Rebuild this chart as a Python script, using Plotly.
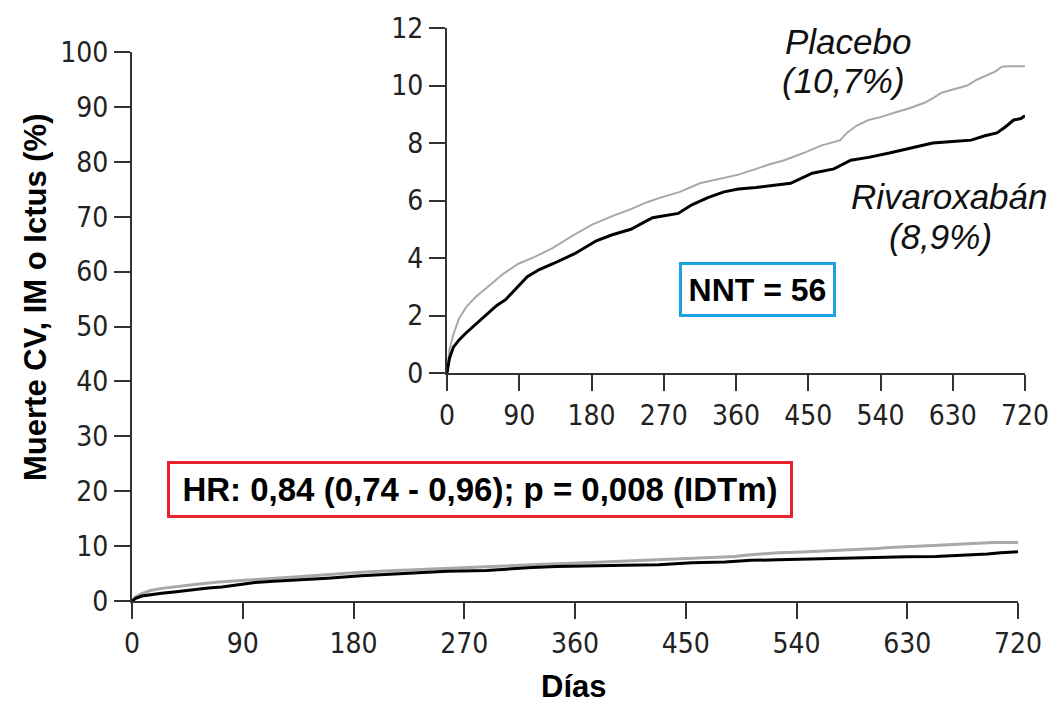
import plotly.graph_objects as go

# ---- data ----
dias_placebo = [0, 3, 8, 15, 24, 36, 51, 70, 89, 110, 132, 155, 180, 205, 229, 250, 266, 290,
                315, 340, 363, 385, 401, 420, 444, 465, 482, 490, 498, 510, 525, 540, 557, 575,
                595, 605, 616, 630, 648, 660, 675, 684, 691, 700, 720]
pct_placebo = [0, 0.8, 1.35, 1.9, 2.3, 2.65, 3.0, 3.45, 3.8, 4.05, 4.35, 4.75, 5.15, 5.45, 5.7,
               5.95, 6.1, 6.3, 6.6, 6.75, 6.9, 7.1, 7.25, 7.4, 7.65, 7.9, 8.05, 8.1, 8.35, 8.6,
               8.8, 8.9, 9.05, 9.2, 9.4, 9.55, 9.75, 9.85, 10.0, 10.2, 10.4, 10.5, 10.65, 10.67,
               10.67]

dias_rivaroxaban = [0, 3, 8, 15, 24, 36, 51, 62, 73, 86, 100, 115, 132, 159, 186, 205, 229, 256,
                    288, 305, 325, 345, 363, 385, 401, 428, 455, 482, 503, 525, 551, 580, 605,
                    630, 653, 670, 685, 695, 706, 715, 720]
pct_rivaroxaban = [0, 0.5, 0.9, 1.15, 1.4, 1.7, 2.1, 2.35, 2.55, 2.95, 3.35, 3.6, 3.8, 4.15, 4.6,
                   4.8, 5.0, 5.4, 5.55, 5.85, 6.1, 6.3, 6.4, 6.45, 6.5, 6.6, 6.95, 7.1, 7.4, 7.5,
                   7.65, 7.85, 8.0, 8.05, 8.1, 8.25, 8.35, 8.55, 8.8, 8.85, 8.95]

x_ticks = [0, 90, 180, 270, 360, 450, 540, 630, 720]
y_ticks_main = [0, 10, 20, 30, 40, 50, 60, 70, 80, 90, 100]
y_ticks_inset = [0, 2, 4, 6, 8, 10, 12]

eje_y_titulo = "Muerte CV, IM o Ictus (%)"
eje_x_titulo = "Días"
texto_hr = "HR: 0,84 (0,74 - 0,96); p = 0,008 (IDTm)"
texto_nnt = "NNT = 56"
placebo_nombre, placebo_pct = "Placebo", "(10,7%)"
rivaroxaban_nombre, rivaroxaban_pct = "Rivaroxabán", "(8,9%)"

GRAY = "#a8a8a8"
BLACK = "#000000"
AXIS = "#333333"
SANS = "Liberation Sans, Arial, sans-serif"
TICKFONT = dict(family="Liberation Sans Narrow, DejaVu Sans Condensed, Open Sans, sans-serif",
                size=28, color="#222222")

# page offset (body margin) compensation
OFF = 8
W, H = 1057, 706
# target screen positions of the plot areas
MAIN_L, MAIN_R, MAIN_T, MAIN_B = 132, 1018, 52, 601
INS_L, INS_R, INS_T, INS_B = 447, 1025, 28, 373

ML = MAIN_L - OFF
MR = W - (INS_R - OFF)
MT = INS_T - OFF
MB = H - (MAIN_B - OFF)
PW = W - ML - MR
PH = H - MT - MB


def px(sx):
    return (sx - OFF - ML) / PW


def py(sy):
    return (H - MB - (sy - OFF)) / PH


fig = go.Figure()

# main plot
fig.add_trace(go.Scatter(x=dias_placebo, y=pct_placebo, mode="lines",
                         line=dict(color=GRAY, width=3), xaxis="x", yaxis="y",
                         showlegend=False, hoverinfo="skip"))
fig.add_trace(go.Scatter(x=dias_rivaroxaban, y=pct_rivaroxaban, mode="lines",
                         line=dict(color=BLACK, width=3), xaxis="x", yaxis="y",
                         showlegend=False, hoverinfo="skip"))
# inset
fig.add_trace(go.Scatter(x=dias_placebo, y=pct_placebo, mode="lines",
                         line=dict(color=GRAY, width=2), xaxis="x2", yaxis="y2",
                         showlegend=False, hoverinfo="skip"))
fig.add_trace(go.Scatter(x=dias_rivaroxaban, y=pct_rivaroxaban, mode="lines",
                         line=dict(color=BLACK, width=3), xaxis="x2", yaxis="y2",
                         showlegend=False, hoverinfo="skip"))

axis_common = dict(showline=True, linecolor=AXIS, linewidth=2, ticks="outside", ticklen=16,
                   tickwidth=2, tickcolor=AXIS, showgrid=False, zeroline=False,
                   tickfont=TICKFONT, fixedrange=True, automargin=False)


def lbl(text, sx, sy, size, bold=False, italic=False, **kw):
    t = text
    if bold:
        t = "<b>" + t + "</b>"
    if italic:
        t = "<i>" + t + "</i>"
    d = dict(text=t, xref="paper", yref="paper", x=px(sx), y=py(sy), showarrow=False,
             xanchor="center", yanchor="middle",
             font=dict(family=SANS, size=size, color=kw.pop("color", "#000000")))
    d.update(kw)
    return d


fig.update_layout(
    width=W, height=H, autosize=False,
    margin=dict(l=ML, r=MR, t=MT, b=MB, pad=0, autoexpand=False),
    paper_bgcolor="white", plot_bgcolor="rgba(0,0,0,0)",
    xaxis=dict(domain=[0, px(MAIN_R)], range=[0, 720], tickvals=x_ticks, anchor="y",
               **axis_common),
    yaxis=dict(domain=[0, py(MAIN_T)], range=[0, 100], tickvals=y_ticks_main, anchor="x",
               **axis_common),
    xaxis2=dict(domain=[px(INS_L), 1], range=[0, 720], tickvals=x_ticks, anchor="y2",
                **axis_common),
    yaxis2=dict(domain=[py(INS_B), 1], range=[0, 12], tickvals=y_ticks_inset, anchor="x2",
                **axis_common),
    annotations=[
        lbl(eje_y_titulo, 35, 298, 31, bold=True, textangle=-90),
        lbl(eje_x_titulo, 573, 686, 31, bold=True),
        lbl(texto_hr, 480, 489.5, 33, bold=True, bordercolor="#e8212b", borderwidth=3,
            borderpad=4, bgcolor="white", width=612, height=43),
        lbl(texto_nnt, 757.5, 289.5, 32, bold=True, bordercolor="#1aa3e0", borderwidth=3,
            borderpad=4, bgcolor="white", width=143, height=41),
        lbl(placebo_nombre, 848, 42, 35, italic=True, color="#111111"),
        lbl(placebo_pct, 843, 80, 35, italic=True, color="#111111"),
        lbl(rivaroxaban_nombre, 949, 197, 35, italic=True, color="#111111"),
        lbl(rivaroxaban_pct, 940, 236, 35, italic=True, color="#111111"),
    ],
)

fig.write_html("out.html")
